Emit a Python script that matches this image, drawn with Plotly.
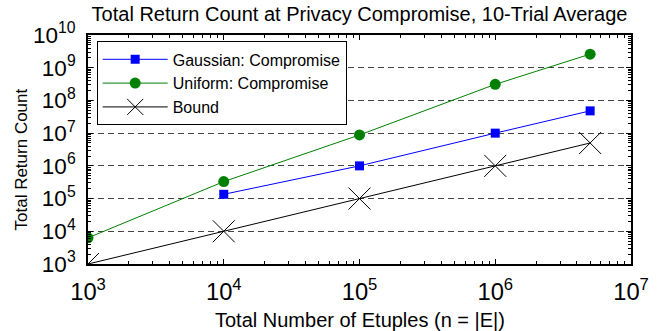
import plotly.graph_objects as go

gauss_x = [1e4, 1e5, 1e6, 5e6]
gauss_y = [1.35e5, 1.0e6, 1.0e7, 4.8e7]
unif_x = [1e3, 1e4, 1e5, 1e6, 5e6]
unif_y = [6.3e3, 3.3e5, 8.8e6, 3.1e8, 2.6e9]
bound_x = [1e3, 1e4, 1e5, 1e6, 5e6]
bound_y = [1e3, 1e4, 1e5, 1e6, 5e6]

title_text = "Total Return Count at Privacy Compromise, 10-Trial Average"
x_title = "Total Number of Etuples (n = |E|)"
y_title = "Total Return Count"

FONT = "Liberation Sans, Arial, sans-serif"

fig = go.Figure()
fig.add_trace(go.Scatter(x=gauss_x, y=gauss_y, mode="lines+markers",
                         name="Gaussian: Compromise",
                         line=dict(color="rgb(0,0,255)", width=1),
                         marker=dict(symbol="square", size=9, color="rgb(0,0,255)")))
fig.add_trace(go.Scatter(x=unif_x, y=unif_y, mode="lines+markers",
                         name="Uniform: Compromise",
                         line=dict(color="rgb(0,128,0)", width=1),
                         marker=dict(symbol="circle", size=11, color="rgb(0,128,0)")))
fig.add_trace(go.Scatter(x=bound_x, y=bound_y, mode="lines+markers",
                         name="Bound",
                         line=dict(color="black", width=1),
                         marker=dict(symbol="x-thin", size=22, color="black",
                                     line=dict(color="black", width=1))))

axis_common = dict(
    type="log", showline=True, linecolor="black", linewidth=1.5, mirror="ticks",
    ticks="inside", ticklen=5, tickcolor="black", tickwidth=1,
    dtick=1, exponentformat="power",
    minor=dict(ticks="inside", ticklen=3, tickcolor="black", dtick="D1", showgrid=False),
    zeroline=False,
)

fig.update_xaxes(range=[3, 7], showgrid=False,
                 tickfont=dict(family=FONT, size=19, color="black"),
                 ticklabelstandoff=7,
                 **axis_common)
fig.update_yaxes(range=[3, 10], showgrid=True, gridcolor="#444444", gridwidth=1,
                 griddash="6px,4px",
                 tickfont=dict(family=FONT, size=18, color="black"),
                 ticklabelstandoff=7,
                 **axis_common)

fig.add_annotation(text=x_title, xref="paper", yref="paper", x=0.5, y=0,
                   xanchor="center", yanchor="middle", yshift=-56, showarrow=False,
                   font=dict(family=FONT, size=20, color="black"))
fig.add_annotation(text=y_title, xref="paper", yref="paper", x=0, y=0.5,
                   xanchor="center", yanchor="middle", xshift=-67, yshift=-10,
                   textangle=-90, showarrow=False,
                   font=dict(family=FONT, size=17, color="black"))

fig.update_layout(
    width=662, height=331,
    margin=dict(l=88, r=31, t=35, b=67, autoexpand=False),
    paper_bgcolor="white", plot_bgcolor="white",
    font=dict(family=FONT, color="black"),
    title=dict(text=title_text,
               x=0.5, xref="paper", xanchor="center",
               y=1 - 13.5 / 331, yref="container", yanchor="middle",
               font=dict(family=FONT, size=20, color="black")),
    showlegend=True,
    legend=dict(x=0.016, y=0.972, xanchor="left", yanchor="top",
                bgcolor="white", bordercolor="black", borderwidth=1,
                font=dict(family=FONT, size=16, color="black"),
                itemwidth=65, tracegroupgap=0),
)

fig.write_html("out.html", post_script="document.body.style.margin='0';",
               config={"displayModeBar": False})
